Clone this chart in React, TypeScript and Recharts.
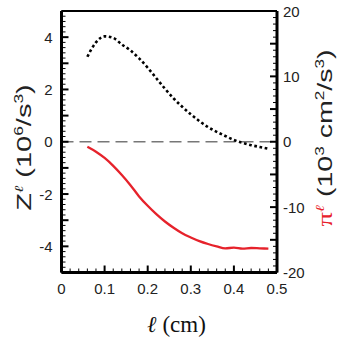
import React from 'react';
import { LineChart, Line, XAxis, YAxis, ReferenceLine } from 'recharts';

// scale lengths ℓ (cm)
const ell = [0.06, 0.08, 0.10, 0.12, 0.14, 0.16, 0.18, 0.20, 0.22, 0.24, 0.26, 0.28, 0.30, 0.32, 0.34, 0.36, 0.38, 0.40, 0.42, 0.44, 0.46, 0.48];
// Z^ℓ (10^6/s^3), black dotted, left axis
const zValues = [3.25, 3.8, 4.03, 3.97, 3.72, 3.49, 3.19, 2.83, 2.43, 2.03, 1.66, 1.34, 1.05, 0.79, 0.56, 0.38, 0.22, 0.07, -0.04, -0.13, -0.2, -0.27];
// π^ℓ (10^3 cm^2/s^3), red solid, right axis
const piValues = [-0.76, -1.52, -2.48, -3.68, -5.08, -6.64, -8.36, -9.8, -11.08, -12.2, -13.16, -14.0, -14.64, -15.2, -15.64, -16.0, -16.3, -16.2, -16.35, -16.25, -16.3, -16.35];

const xLabels = [0, 0.1, 0.2, 0.3, 0.4, 0.5];
const leftLabels = [-4, -2, 0, 2, 4];
const rightLabels = [-20, -10, 0, 10, 20];

const xTicks = Array.from({ length: 26 }, (_, i) => i / 50);
const leftTicks = Array.from({ length: 51 }, (_, i) => (i - 25) / 5);
const rightTicks = Array.from({ length: 41 }, (_, i) => i - 20);

const data = ell.map((x, i) => ({ x, z: zValues[i], pi: piValues[i] }));

const near = (a: number, b: number) => Math.abs(a - b) < 1e-6;
const isMult = (v: number, m: number) => near(v / m, Math.round(v / m));

const SANS = '"Liberation Sans", Arial, Helvetica, sans-serif';
const SERIF = '"Liberation Serif", "Times New Roman", serif';

const LeftTick = (p: any) => {
  const v = p.payload.value;
  const major = isMult(v, 1);
  const lab = leftLabels.find((l) => near(l, v));
  return (
    <g>
      <line x1={p.x} x2={p.x + (major ? 7 : 4)} y1={p.y} y2={p.y} stroke="#000" strokeWidth={major ? 2 : 1} />
      {lab !== undefined && (
        <text x={p.x - 9} y={p.y} dy={5.5} textAnchor="end" fontFamily={SANS} fontSize={15} fill="#222">
          {String(lab)}
        </text>
      )}
    </g>
  );
};

const RightTick = (p: any) => {
  const v = p.payload.value;
  const major = isMult(v, 5);
  const lab = rightLabels.find((l) => near(l, v));
  return (
    <g>
      <line x1={p.x} x2={p.x - (major ? 7 : 4)} y1={p.y} y2={p.y} stroke="#000" strokeWidth={major ? 2 : 1} />
      {lab !== undefined && (
        <text x={p.x + 6} y={p.y} dy={5.5} textAnchor="start" fontFamily={SANS} fontSize={15} fill="#222">
          {String(lab)}
        </text>
      )}
    </g>
  );
};

const BottomTick = (p: any) => {
  const v = p.payload.value;
  const major = isMult(v, 0.1);
  const lab = xLabels.find((l) => near(l, v));
  return (
    <g>
      <line x1={p.x} x2={p.x} y1={p.y} y2={p.y - (major ? 7 : 4)} stroke="#000" strokeWidth={major ? 2 : 1} />
      {lab !== undefined && (
        <text x={p.x} y={p.y + 21.5} textAnchor="middle" fontFamily={SANS} fontSize={15} fill="#222">
          {String(lab)}
        </text>
      )}
    </g>
  );
};

const LeftTitle = () => (
  <text
    transform="translate(31,147.5) rotate(-90) scale(1.45,1)"
    textAnchor="middle"
    fontFamily={SANS}
    fontSize={20}
    fill="#222"
  >
    <tspan>Z</tspan>
    <tspan fontFamily={SERIF} fontStyle="italic" fontSize={12} dy={-8}>ℓ</tspan>
    <tspan dy={8}> (10</tspan>
    <tspan fontSize={12} dy={-8}>6</tspan>
    <tspan dy={8}>/s</tspan>
    <tspan fontSize={12} dy={-8}>3</tspan>
    <tspan dy={8}>)</tspan>
  </text>
);

const RightTitle = () => (
  <text
    transform="translate(332,138) rotate(-90) scale(1.43,1)"
    textAnchor="middle"
    fontFamily={SANS}
    fontSize={20}
    fill="#222"
  >
    <tspan fontFamily={SERIF} fill="#e8202a">π</tspan>
    <tspan fontFamily={SERIF} fontStyle="italic" fontSize={12} dy={-8} fill="#e8202a">ℓ</tspan>
    <tspan dy={8}> (10</tspan>
    <tspan fontSize={12} dy={-8}>3</tspan>
    <tspan dy={8}> cm</tspan>
    <tspan fontSize={12} dy={-8}>2</tspan>
    <tspan dy={8}>/s</tspan>
    <tspan fontSize={12} dy={-8}>3</tspan>
    <tspan dy={8}>)</tspan>
  </text>
);

const XTitle = () => (
  <text x={176.5} y={332} textAnchor="middle" fontFamily={SERIF} fontSize={23} fill="#111">
    <tspan fontStyle="italic">ℓ</tspan>
    <tspan> (cm)</tspan>
  </text>
);

export default function App() {
  return (
    <div style={{ position: 'absolute', left: 0, top: 0, width: 346, height: 346, background: '#fff' }}>
      <LineChart width={346} height={346} data={data} margin={{ top: 11, right: 0, bottom: 0, left: 0 }}>
        <XAxis
          dataKey="x"
          type="number"
          domain={[0, 0.5]}
          ticks={xTicks}
          interval={0}
          height={73.5}
          tickSize={0}
          tickMargin={0}
          tickLine={false}
          axisLine={{ stroke: '#000', strokeWidth: 3 }}
          tick={<BottomTick />}
          label={<XTitle />}
        />
        <YAxis
          yAxisId="left"
          orientation="left"
          type="number"
          domain={[-5, 5]}
          ticks={leftTicks}
          interval={0}
          width={61.5}
          tickSize={0}
          tickMargin={0}
          tickLine={false}
          axisLine={{ stroke: '#000', strokeWidth: 3 }}
          tick={<LeftTick />}
          label={<LeftTitle />}
        />
        <YAxis
          yAxisId="right"
          orientation="right"
          type="number"
          domain={[-20, 20]}
          ticks={rightTicks}
          interval={0}
          width={69}
          tickSize={0}
          tickMargin={0}
          tickLine={false}
          axisLine={{ stroke: '#000', strokeWidth: 3 }}
          tick={<RightTick />}
          label={<RightTitle />}
        />
        <ReferenceLine yAxisId="left" y={5} stroke="#000" strokeWidth={2.2} />
        <ReferenceLine yAxisId="left" y={0} stroke="#777" strokeWidth={1.5} strokeDasharray="12 6" />
        <Line
          yAxisId="left"
          dataKey="z"
          type="monotone"
          stroke="#000"
          strokeWidth={2.6}
          strokeDasharray="2.7 2.6"
          dot={false}
          isAnimationActive={false}
        />
        <Line
          yAxisId="right"
          dataKey="pi"
          type="monotone"
          stroke="#e6222b"
          strokeWidth={2.3}
          dot={false}
          isAnimationActive={false}
        />
      </LineChart>
    </div>
  );
}
